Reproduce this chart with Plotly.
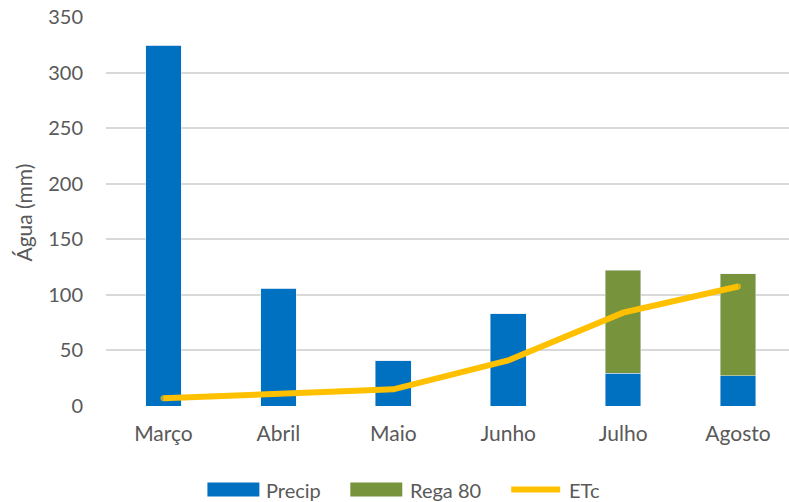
import plotly.graph_objects as go

# Monthly water balance (mm)
months = ["Março", "Abril", "Maio", "Junho", "Julho", "Agosto"]
precip = [324.5, 106, 40.5, 83, 29.5, 27]
rega80 = [0, 0, 0, 0, 92.5, 92]
etc = [7, 11, 15, 41, 84, 107.5]

x = list(range(len(months)))

BLUE = "#0070C0"
GREEN = "#77933C"
YELLOW = "#FFC000"
TEXT = "#595959"
GRID = "#D9D9D9"
FONT = "Lato, 'Open Sans', sans-serif"

fig = go.Figure()
fig.add_trace(go.Bar(x=x, y=precip, name="Precip", marker_color=BLUE,
                     width=0.31, showlegend=False))
fig.add_trace(go.Bar(x=x, y=rega80, name="Rega 80", marker_color=GREEN,
                     width=0.31, showlegend=False))
# round caps on the line ends
cap_sizes = [6 if i in (0, len(x) - 1) else 0 for i in x]
fig.add_trace(go.Scatter(x=x, y=etc, name="ETc", mode="lines+markers",
                         line=dict(color=YELLOW, width=6),
                         marker=dict(size=cap_sizes, color=YELLOW, line=dict(width=0)),
                         showlegend=False))

W, H = 789, 502
ML, MT, MB = 105.5, 17, 96
plot_w = W - ML
cat_px = 115.0
x_max = -0.5 + plot_w / cat_px

fig.update_layout(
    width=W, height=H,
    margin=dict(l=ML, r=0, t=MT, b=MB, autoexpand=False),
    barmode="stack",
    plot_bgcolor="white", paper_bgcolor="white",
    font=dict(family=FONT, size=20, color=TEXT),
    xaxis=dict(range=[-0.5, x_max], tickmode="array", tickvals=x,
               ticktext=months, showgrid=False, zeroline=False,
               showline=False, ticks="", ticklabelstandoff=13,
               tickfont=dict(size=21, color=TEXT)),
    yaxis=dict(range=[0, 350], tickvals=[0, 50, 100, 150, 200, 250, 300, 350],
               showgrid=True, gridcolor=GRID, gridwidth=1.5, zeroline=False,
               showline=False, ticks="", ticklabelstandoff=22,
               tickfont=dict(size=20, color=TEXT)),
)

# Axis title
fig.add_annotation(text="Água (mm)", xref="paper", yref="paper",
                   x=(22 - ML) / plot_w, y=(H - MB - 213) / (H - MT - MB),
                   textangle=-90, showarrow=False,
                   font=dict(size=21, color=TEXT), xanchor="center", yanchor="middle")

# Legend along the bottom
def px_x(p):
    return (p - ML) / plot_w

def px_y(p):
    return (H - MB - p) / (H - MT - MB)

legend_items = [
    ("Precip", BLUE, "rect", 207, 259, 264),
    ("Rega 80", GREEN, "rect", 350, 402, 408),
    ("ETc", YELLOW, "line", 508, 563, 567),
]
ly = 489.5
for label, color, kind, x0, x1, tx in legend_items:
    if kind == "rect":
        fig.add_shape(type="rect", xref="paper", yref="paper",
                      x0=px_x(x0), x1=px_x(x1), y0=px_y(ly + 7), y1=px_y(ly - 7),
                      fillcolor=color, line=dict(width=0))
    else:
        fig.add_shape(type="line", xref="paper", yref="paper",
                      x0=px_x(x0 + 3), x1=px_x(x1 - 3), y0=px_y(ly), y1=px_y(ly),
                      line=dict(color=color, width=6))
    fig.add_annotation(text=label, xref="paper", yref="paper",
                       x=px_x(tx), y=px_y(ly), xanchor="left", yanchor="middle",
                       showarrow=False, font=dict(size=20, color=TEXT))

fig.write_html("out.html")
